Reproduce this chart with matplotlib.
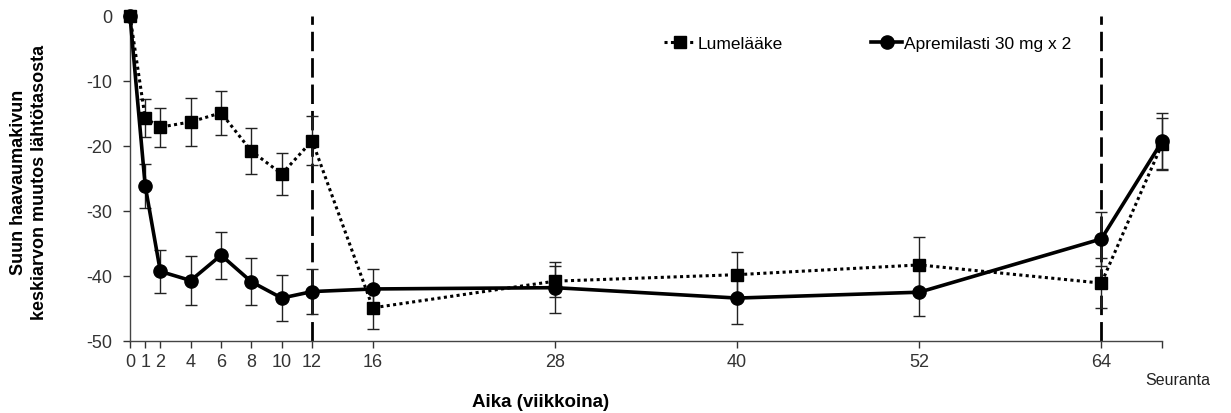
import matplotlib
matplotlib.use("Agg")
import matplotlib.pyplot as plt
import numpy as np

plt.rcParams["font.family"] = ["Liberation Sans", "DejaVu Sans"]

weeks = [0, 1, 2, 4, 6, 8, 10, 12, 16, 28, 40, 52, 64, 68]
tick_labels = ["0", "1", "2", "4", "6", "8", "10", "12", "16", "28", "40", "52", "64", ""]

placebo = [0, -15.7, -17.1, -16.3, -14.9, -20.8, -24.3, -19.2, -44.9, -40.8, -39.8, -38.3, -41.1, -19.7]
placebo_err = [0, 2.9, 3.0, 3.7, 3.4, 3.5, 3.2, 3.8, 3.3, 2.4, 3.5, 4.3, 3.8, 4.0]

apremilast = [0, -26.1, -39.3, -40.7, -36.8, -40.9, -43.4, -42.4, -42.0, -41.8, -43.4, -42.5, -34.3, -19.3]
apremilast_err = [0, 3.4, 3.3, 3.7, 3.6, 3.6, 3.6, 3.5, 3.0, 3.9, 4.0, 3.7, 4.2, 4.3]

vlines = [12, 64]

fig = plt.figure(figsize=(12.31, 4.14), dpi=100)
ax = fig.add_axes([0.1056, 0.174, 0.8384, 0.785])

ax.errorbar(weeks, placebo, yerr=placebo_err, fmt="none", ecolor="#222222",
            elinewidth=1, capsize=4, capthick=1, clip_on=False, zorder=2)
ax.errorbar(weeks, apremilast, yerr=apremilast_err, fmt="none", ecolor="#222222",
            elinewidth=1, capsize=4, capthick=1, clip_on=False, zorder=2)

ax.plot(weeks, placebo, color="black", linestyle=(0, (1, 1.1)), linewidth=2.2,
        marker="s", markersize=8.5, label="Lumelääke", clip_on=False, zorder=3)
ax.plot(weeks, apremilast, color="black", linestyle="-", linewidth=2.6,
        marker="o", markersize=9.5, label="Apremilasti 30 mg x 2", clip_on=False, zorder=4)

for v in vlines:
    ax.axvline(v, color="black", linestyle=(0, (7, 2.5)), linewidth=2, zorder=1)

ax.set_xlim(0, 68)
ax.set_ylim(-50, 0)
ax.set_xticks(weeks)
ax.set_xticklabels(tick_labels)
ax.set_yticks([0, -10, -20, -30, -40, -50])
ax.set_yticklabels(["0", "-10", "-20", "-30", "-40", "-50"])
ax.tick_params(axis="both", labelsize=13, colors="#333333", labelcolor="#333333",
               direction="out", length=5, width=1)
ax.tick_params(axis="y", pad=8)
for s in ["top", "right"]:
    ax.spines[s].set_visible(False)
for s in ["left", "bottom"]:
    ax.spines[s].set_color("#444444")
    ax.spines[s].set_linewidth(1)

ax.set_ylabel("Suun haavaumakivun\nkeskiarvon muutos lähtötasosta", fontsize=13,
              fontweight="bold", linespacing=1.3)
ax.yaxis.set_label_coords(-0.0795, 0.49)
ax.set_xlabel("Aika (viikkoina)", fontsize=13.5, fontweight="bold")
ax.xaxis.set_label_coords(0.398, -0.16)
fig.text(0.957, 0.08, "Seuranta", fontsize=11.5, ha="center", va="center", color="#222222")

ax.legend(loc="upper left", bbox_to_anchor=(0.506, 0.975), ncol=2, frameon=False,
          fontsize=12.5, handlelength=1.8, handletextpad=0.1, columnspacing=5.1,
          borderaxespad=0.3)

fig.savefig("out.png", dpi=100)
